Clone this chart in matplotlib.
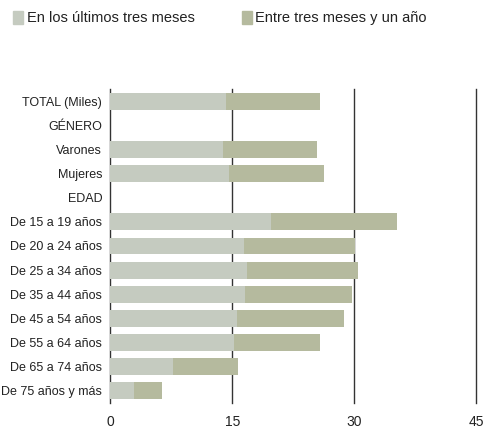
import matplotlib.pyplot as plt
from matplotlib.patches import Patch

plt.rcParams["font.family"] = ["Liberation Sans Narrow", "Liberation Sans", "DejaVu Sans"]

categories = ["TOTAL (Miles)", "GÉNERO", "Varones", "Mujeres", "EDAD",
              "De 15 a 19 años", "De 20 a 24 años", "De 25 a 34 años",
              "De 35 a 44 años", "De 45 a 54 años", "De 55 a 64 años",
              "De 65 a 74 años", "De 75 años y más"]
# None = header rows without bars
last_three = [14.2, None, 13.8, 14.6, None, 19.7, 16.4, 16.8, 16.5, 15.6, 15.2, 7.7, 2.9]
three_to_year = [11.6, None, 11.6, 11.7, None, 15.5, 13.7, 13.6, 13.2, 13.1, 10.6, 8.0, 3.4]
x_ticks = [0, 15, 30, 45]

c_light = "#C5CBC0"
c_dark = "#B5BA9E"

fig = plt.figure(figsize=(4.85, 4.33), dpi=100)
ax = fig.add_axes([0.2278, 0.0693, 0.7546, 0.7252])

ypos = list(range(len(categories)))
for y, a, b in zip(ypos, last_three, three_to_year):
    if a is None:
        continue
    ax.barh(y, a, height=0.7, color=c_light, zorder=3)
    ax.barh(y, b, left=a, height=0.7, color=c_dark, zorder=3)

for t in x_ticks[1:]:
    ax.axvline(t, color="#333333", linewidth=1.0, zorder=1, clip_on=False)

ax.set_xlim(0, 45)
ax.set_ylim(len(categories) - 0.5, -0.5)
ax.set_yticks(ypos)
ax.set_yticklabels(categories, fontsize=9, color="#222222")
ax.set_xticks(x_ticks)
ax.set_xticklabels([str(t) for t in x_ticks], fontsize=10, color="#222222")
ax.tick_params(axis="y", length=0, pad=6)
ax.tick_params(axis="x", length=0, pad=9)

for s in ["top", "right", "bottom"]:
    ax.spines[s].set_visible(False)
ax.spines["left"].set_color("#333333")
ax.spines["left"].set_linewidth(1.0)
ax.spines["left"].set_zorder(2)

handles = [Patch(color=c_light, label="En los últimos tres meses"),
           Patch(color=c_dark, label="Entre tres meses y un año")]
fig.legend(handles=handles, loc="upper left", bbox_to_anchor=(0.0, 1.005), ncol=2,
           frameon=False, fontsize=10.5, handlelength=0.7, handleheight=1.0,
           handletextpad=0.25, columnspacing=3.2, labelcolor="#222222")

fig.savefig("out.png", dpi=100)
